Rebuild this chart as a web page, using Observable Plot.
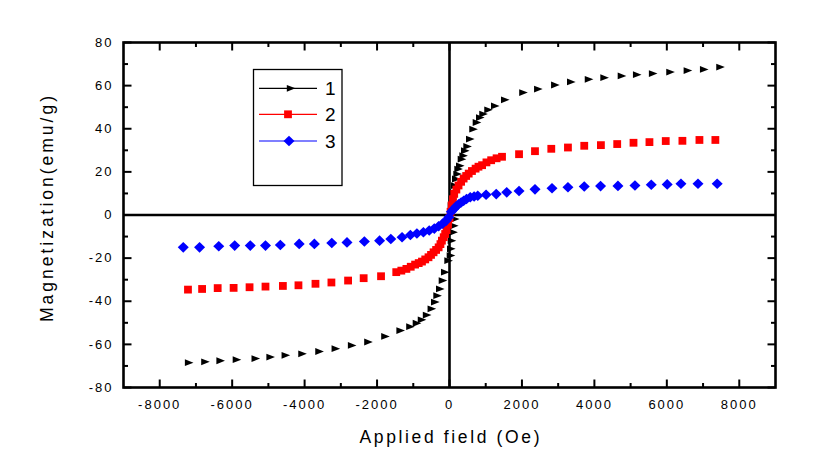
<!DOCTYPE html>
<html><head><meta charset="utf-8">
<script src="https://cdn.jsdelivr.net/npm/d3@7"></script>
<script src="https://cdn.jsdelivr.net/npm/@observablehq/plot@0.6"></script>
<style>
body{margin:0;background:#fff;}
#wrap{position:relative;width:822px;height:476px;font-family:"Liberation Sans",Arial,sans-serif;}
#legend{position:absolute;left:252px;top:68px;}
</style></head><body><div id="wrap"></div>
<script>
// ---- data ----
const seriesNames = ["1", "2", "3"];
const seriesColors = ["#000000", "#ff0000", "#0000ff"];

const h1 = [-7190,-6740,-6320,-5870,-5350,-4940,-4520,-4060,-3590,-3140,-2690,-2240,-1770,-1350,-1080,-900,-760,-620,-490,-394,-331,-257,-182,-119,-27,39,47,66,110,130,157,
  66,94,110,157,185,221,248,295,342,386,433,497,571,662,756,847,938,1076,1261,1537,2040,2450,2920,3360,3850,4280,4760,5180,5620,6100,6580,7030,7480];
const m1 = [-68.5,-68.1,-67.6,-67.1,-66.6,-65.9,-65.1,-64.4,-63.3,-62.0,-60.5,-58.9,-56.3,-53.6,-51.8,-50.2,-48.6,-46.4,-43.5,-40.4,-37.4,-34.3,-30.4,-26.5,-21.2,-18.8,-15.7,-11.9,-8.0,-5.0,-1.9,
  4.3,7.4,10.5,13.6,16.7,19.0,21.3,22.8,25.9,27.5,29.8,31.8,35.2,39.8,42.9,45.2,46.8,48.8,50.6,53.4,56.8,58.4,60.3,61.7,62.9,63.7,64.5,65.1,65.6,66.3,67.0,67.5,68.6];

const h2 = [-7220,-6830,-6400,-5960,-5520,-5080,-4600,-4170,-3700,-3260,-2800,-2370,-1890,-1470,-1330,-1190,-1070,-950,-850,-760,-670,-580,-510,-440,-370,-300,-250,-210,-160,-120,-80,-40,0,
  30,60,95,130,190,250,320,390,460,530,620,720,800,900,1020,1150,1300,1450,1920,2360,2810,3270,3720,4180,4630,5080,5520,5970,6430,6900,7340];
const m2 = [-34.6,-34.3,-33.9,-33.8,-33.5,-33.2,-32.9,-32.6,-31.9,-31.3,-30.4,-29.3,-28.4,-26.5,-25.8,-25.0,-24.0,-23.0,-22.3,-21.6,-20.6,-19.6,-18.5,-17.3,-16.2,-15.0,-13.5,-11.9,-10.3,-8.8,-7.0,-4.5,-1.5,
  1.5,4.5,7.3,9.8,11.8,13.7,15.4,16.9,18.1,19.2,20.4,21.5,22.4,23.1,24.4,25.4,26.3,27.0,28.2,29.6,30.7,31.3,32.1,32.4,32.9,33.5,33.8,34.3,34.4,34.8,34.8];

const h3 = [-7350,-6900,-6370,-5930,-5500,-5080,-4670,-4150,-3730,-3250,-2830,-2350,-1930,-1620,-1310,-1080,-900,-720,-560,-420,-300,-190,-90,-20,
  50,113,180,251,320,392,470,573,680,780,1010,1290,1580,1920,2360,2830,3270,3720,4170,4650,5120,5570,6010,6390,6860,7390];
const m3 = [-15.0,-15.0,-14.5,-14.2,-14.2,-14.2,-13.9,-13.4,-13.4,-13.0,-12.7,-12.3,-11.9,-11.1,-10.3,-9.3,-8.6,-8.0,-7.2,-6.3,-5.2,-4.0,-2.6,-1.0,
  1.5,2.7,3.9,5.0,5.8,6.6,7.4,8.2,8.6,8.9,9.4,9.7,10.5,11.1,11.9,12.4,12.9,13.2,13.4,13.5,13.7,14.0,14.2,14.5,14.5,14.5];

const xDomain = [-9000, 9000];
const yDomain = [-80, 80];
const xMajor = [-8000,-6000,-4000,-2000,0,2000,4000,6000,8000];
const xMinor = [-7000,-5000,-3000,-1000,1000,3000,5000,7000];
const yMajor = [-80,-60,-40,-20,0,20,40,60,80];
const yMinor = [-70,-50,-30,-10,10,30,50,70];
const zeroLine = [0];
const xTitle = "Applied field (Oe)";
const yTitle = "Magnetization(emu/g)";

// ---- build ----
const s1 = h1.map((h, i) => ({h, m: m1[i]}));
const s2 = h2.map((h, i) => ({h, m: m2[i]}));
const s3 = h3.map((h, i) => ({h, m: m3[i]}));

const triRight = {draw(c){c.moveTo(4.4,0);c.lineTo(-4.2,-3.4);c.lineTo(-4.2,3.4);c.closePath();}};
const squareSym = {draw(c){c.rect(-3.9,-3.9,7.8,7.8);}};
const diamondSym = {draw(c){c.moveTo(0,-5.3);c.lineTo(5.5,0);c.lineTo(0,5.3);c.lineTo(-5.5,0);c.closePath();}};
const tickSym = (dx, dy) => ({draw(c){c.moveTo(0,0);c.lineTo(dx,dy);}});

const tickStyle = {stroke: "black", strokeWidth: 2, fill: "none"};
const fmt = d => String(d);

const chart = Plot.plot({
  width: 822, height: 476,
  marginLeft: 123, marginRight: 47, marginTop: 42, marginBottom: 89,
  x: {domain: xDomain},
  y: {domain: yDomain},
  style: {fontFamily: '"Liberation Sans", Arial, sans-serif', background: "white", color: "black"},
  marks: [
    Plot.ruleX(zeroLine, {x: d => d, stroke: "black", strokeWidth: 2.6}),
    Plot.ruleY(zeroLine, {y: d => d, stroke: "black", strokeWidth: 2.6}),
    Plot.dot(s1, {x: "h", y: "m", symbol: triRight, fill: seriesColors[0], stroke: "none", r: 4}),
    Plot.dot(s2, {x: "h", y: "m", symbol: squareSym, fill: seriesColors[1], stroke: "none", r: 4}),
    Plot.dot(s3, {x: "h", y: "m", symbol: diamondSym, fill: seriesColors[2], stroke: "none", r: 4}),
    // inward ticks on all four sides
    Plot.dot(xMajor, {x: d => d, frameAnchor: "bottom", symbol: tickSym(0, -8), ...tickStyle}),
    Plot.dot(xMinor, {x: d => d, frameAnchor: "bottom", symbol: tickSym(0, -4.5), ...tickStyle}),
    Plot.dot(xMajor, {x: d => d, frameAnchor: "top", symbol: tickSym(0, 8), ...tickStyle}),
    Plot.dot(xMinor, {x: d => d, frameAnchor: "top", symbol: tickSym(0, 4.5), ...tickStyle}),
    Plot.dot(yMajor, {y: d => d, frameAnchor: "left", symbol: tickSym(8, 0), ...tickStyle}),
    Plot.dot(yMinor, {y: d => d, frameAnchor: "left", symbol: tickSym(4.5, 0), ...tickStyle}),
    Plot.dot(yMajor, {y: d => d, frameAnchor: "right", symbol: tickSym(-8, 0), ...tickStyle}),
    Plot.dot(yMinor, {y: d => d, frameAnchor: "right", symbol: tickSym(-4.5, 0), ...tickStyle}),
    Plot.axisX({ticks: xMajor, tickSize: 0, tickPadding: 12, tickFormat: fmt, fontSize: 13, label: null}),
    Plot.axisY({ticks: yMajor, tickSize: 0, tickPadding: 10, tickFormat: fmt, fontSize: 13, label: null}),
    Plot.text([xTitle], {text: d => d, frameAnchor: "bottom", dy: 50, fontSize: 17.5, lineAnchor: "middle", textAnchor: "middle"}),
    Plot.text([yTitle], {text: d => d, frameAnchor: "left", dx: -76, dy: -6, rotate: -90, fontSize: 17.5, lineAnchor: "middle", textAnchor: "middle"}),
    Plot.frame({stroke: "black", strokeWidth: 2.6})
  ]
});

// spaced typography, as in the reference
chart.querySelectorAll("text").forEach(t => {
  const s = t.textContent;
  if (s === xTitle) { t.setAttribute("textLength", 180); t.setAttribute("lengthAdjust", "spacing"); }
  else if (s === yTitle) { t.setAttribute("textLength", 226); t.setAttribute("lengthAdjust", "spacing"); }
  else if (/^-?\d+$/.test(s)) { t.setAttribute("letter-spacing", "2px"); t.style.letterSpacing = "2px"; }
});

const wrap = document.getElementById("wrap");
wrap.appendChild(chart);

// legend box inside the plot area
const ns = "http://www.w3.org/2000/svg";
const leg = document.createElementNS(ns, "svg");
leg.setAttribute("id", "legend");
leg.setAttribute("width", 92);
leg.setAttribute("height", 120);
const syms = [
  "M43.4,0 L34.8,-3.4 L34.8,3.4 Z",
  "M32.1,-3.9 h7.8 v7.8 h-7.8 Z",
  "M37,-5.3 L42.5,0 L37,5.3 L31.5,0 Z"
];
let html = `<rect x="1.5" y="1.5" width="88.5" height="116" fill="white" stroke="black" stroke-width="1.3"/>`;
const rowY = [20.3, 46.3, 73];
seriesNames.forEach((name, i) => {
  html += `<g transform="translate(0,${rowY[i]})">
    <line x1="7" x2="65" y1="0" y2="0" stroke="${seriesColors[i]}" stroke-width="1.2"/>
    <path d="${syms[i]}" fill="${seriesColors[i]}"/>
    <text x="73" y="0" dy="0.36em" font-size="19" font-family="Liberation Sans, Arial, sans-serif">${name}</text>
  </g>`;
});
leg.innerHTML = html;
wrap.appendChild(leg);
</script></body></html>
